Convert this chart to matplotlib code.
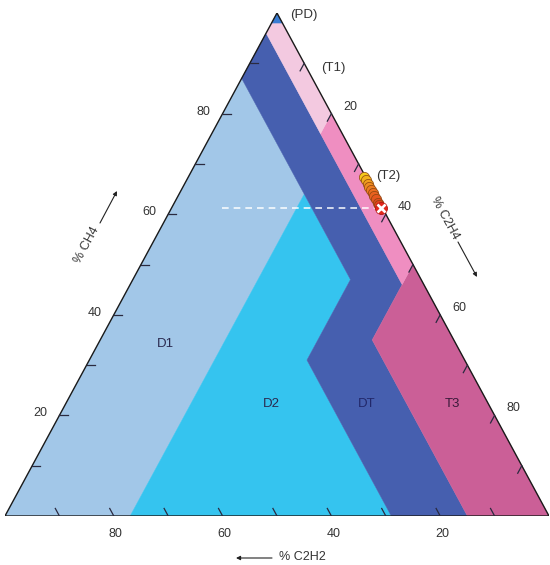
import matplotlib
matplotlib.use('Agg')
import matplotlib.pyplot as plt
from matplotlib.patches import Polygon

plt.rcParams['font.family'] = ['Liberation Sans', 'DejaVu Sans']

# ---- Duval triangle zones, vertices as (CH4, C2H4, C2H2) in % ----
zone_PD = [(98, 2, 0), (100, 0, 0), (98, 0, 2)]
zone_T1 = [(76, 20, 4), (80, 20, 0), (98, 2, 0), (98, 0, 2), (96, 0, 4)]
zone_T2 = [(46, 50, 4), (50, 50, 0), (80, 20, 0), (76, 20, 4)]
zone_T3 = [(0, 85, 15), (0, 100, 0), (50, 50, 0), (35, 50, 15)]
zone_DT = [(0, 71, 29), (31, 40, 29), (47, 40, 13), (87, 0, 13), (96, 0, 4),
           (46, 50, 4), (35, 50, 15), (0, 85, 15)]
zone_D1 = [(0, 0, 100), (0, 23, 77), (64, 23, 13), (87, 0, 13)]
zone_D2 = [(0, 23, 77), (0, 71, 29), (31, 40, 29), (47, 40, 13), (64, 23, 13)]

zones = [zone_D1, zone_D2, zone_DT, zone_T3, zone_T2, zone_T1, zone_PD]
zone_colors = ['#A2C7E8', '#35C4EF', '#465FAF', '#CB5F97', '#EF8EC1', '#F3C9E0', '#3A7DD3']

# ---- measured gas ratios (CH4, C2H4, C2H2) in % ----
pt_ch4 = [67.3, 66.7, 66.1, 65.4, 64.9, 64.2, 63.6, 63.0, 62.3, 61.8, 61.2]
pt_c2h4 = [32.4, 33.0, 33.6, 34.3, 34.8, 35.5, 36.1, 36.7, 37.4, 37.9, 38.5]
pt_c2h2 = [0.3, 0.3, 0.3, 0.3, 0.3, 0.3, 0.3, 0.3, 0.3, 0.3, 0.3]
pt_colors = ['#F5C81A', '#F3B21C', '#F19E1F', '#EF8C20', '#ED7C20', '#EB6E20',
             '#E86220', '#E5571F', '#E24C1E', '#DF421C', '#E2281C']

tick_vals = [10, 20, 30, 40, 50, 60, 70, 80, 90]
label_vals = [20, 40, 60, 80]

# reference level line (CH4 of last sample) from C2H4 start to edge
ref_ch4 = 61.2
ref_c2h4_range = [9.3, 38.8]


def tern(ch4, c2h4, c2h2):
    x = c2h4 + ch4 / 2.0
    y = ch4
    return x, y


W, H = 550, 565
fig = plt.figure(figsize=(5.5, 5.65), dpi=100)
ax = fig.add_axes([5 / W, (H - 516) / H, 544 / W, 503 / H])
ax.set_xlim(0, 100)
ax.set_ylim(0, 100)
ax.axis('off')

for poly, col in zip(zones, zone_colors):
    pts = [tern(*p) for p in poly]
    ax.add_patch(Polygon(pts, closed=True, facecolor=col, edgecolor=col, lw=0.3, zorder=1))

# outline
outline = [tern(100, 0, 0), tern(0, 100, 0), tern(0, 0, 100)]
ax.add_patch(Polygon(outline, closed=True, fill=False, edgecolor='#1a1a1a', lw=1.0, zorder=3))

# ticks
d = 1.5
tick_col = '#2a2a40'
for v in tick_vals:
    a = tern(v, 0, 100 - v); b = tern(v, d, 100 - v - d)
    ax.plot([a[0], b[0]], [a[1], b[1]], color=tick_col, lw=0.9, zorder=4)
    a = tern(100 - v, v, 0); b = tern(100 - v - d, v, d)
    ax.plot([a[0], b[0]], [a[1], b[1]], color=tick_col, lw=0.9, zorder=4)
    a = tern(0, 100 - v, v); b = tern(d, 100 - v - d, v)
    ax.plot([a[0], b[0]], [a[1], b[1]], color=tick_col, lw=0.9, zorder=4)

lab_kw = dict(fontsize=9, color='#333333', ha='center', va='center',
              textcoords='offset pixels')
for v in label_vals:
    ax.annotate(str(v), tern(v, 0, 100 - v), xytext=(-19, 2), **lab_kw)
    ax.annotate(str(v), tern(100 - v, v, 0), xytext=(19, 7), **lab_kw)
    ax.annotate(str(v), tern(0, 100 - v, v), xytext=(2, -18), **lab_kw)

# dashed reference line
xa, ya = tern(ref_ch4, ref_c2h4_range[0], 100 - ref_ch4 - ref_c2h4_range[0])
xb, yb = tern(ref_ch4, ref_c2h4_range[1], 100 - ref_ch4 - ref_c2h4_range[1])
ax.plot([xa, xb], [ya, yb], color='white', lw=1.2, ls=(0, (4, 3)), zorder=5, alpha=0.9)

# data points
for i, (c, e, a2, col) in enumerate(zip(pt_ch4, pt_c2h4, pt_c2h2, pt_colors)):
    x, y = tern(c, e, a2)
    if i < len(pt_ch4) - 1:
        ax.plot(x, y, 'o', ms=7.4, mfc=col, mec='#8a4510', mew=0.5, zorder=6 + i)
    else:
        ax.plot(x, y, 'o', ms=8.6, mfc=col, mec='#B01810', mew=0.6, zorder=6 + i)
        ax.plot(x, y, 'x', ms=5.5, mec='white', mew=1.9, zorder=7 + i)


def ft(px, py, s, **kw):
    fig.text(px / W, 1 - py / H, s, **kw)


# zone labels
zl = dict(fontsize=9.5, ha='center', va='center')
ft(165, 344, 'D1', color='#2a2a50', **zl)
ft(271, 404, 'D2', color='#2a2a50', **zl)
ft(367, 404, 'DT', color='#22286a', **zl)
ft(452, 404, 'T3', color='#3a1a3a', **zl)
ft(304, 15, '(PD)', color='#333333', **zl)
ft(333, 68, '(T1)', color='#333333', **zl)
ft(388, 176, '(T2)', color='#333333', **zl)

# axis titles
ft(87, 245, '% CH4', fontsize=9, color='#333333', rotation=61.5, ha='center', va='center')
ft(445, 218, '% C2H4', fontsize=9, color='#333333', rotation=-61.5, ha='center', va='center')
ft(302, 557, '% C2H2', fontsize=9, color='#333333', ha='center', va='center')

arrow_kw = dict(arrowstyle='-|>', color='#222222', lw=0.8, mutation_scale=6,
                shrinkA=0, shrinkB=0)


def arrow(p0, p1):
    fig.add_artist(matplotlib.patches.FancyArrowPatch(
        (p0[0] / W, 1 - p0[1] / H), (p1[0] / W, 1 - p1[1] / H),
        transform=fig.transFigure, **arrow_kw))


arrow((100, 223), (117, 191))
arrow((458, 242), (477, 277))
arrow((272, 558), (236, 558))

fig.savefig('out.png', dpi=100)
